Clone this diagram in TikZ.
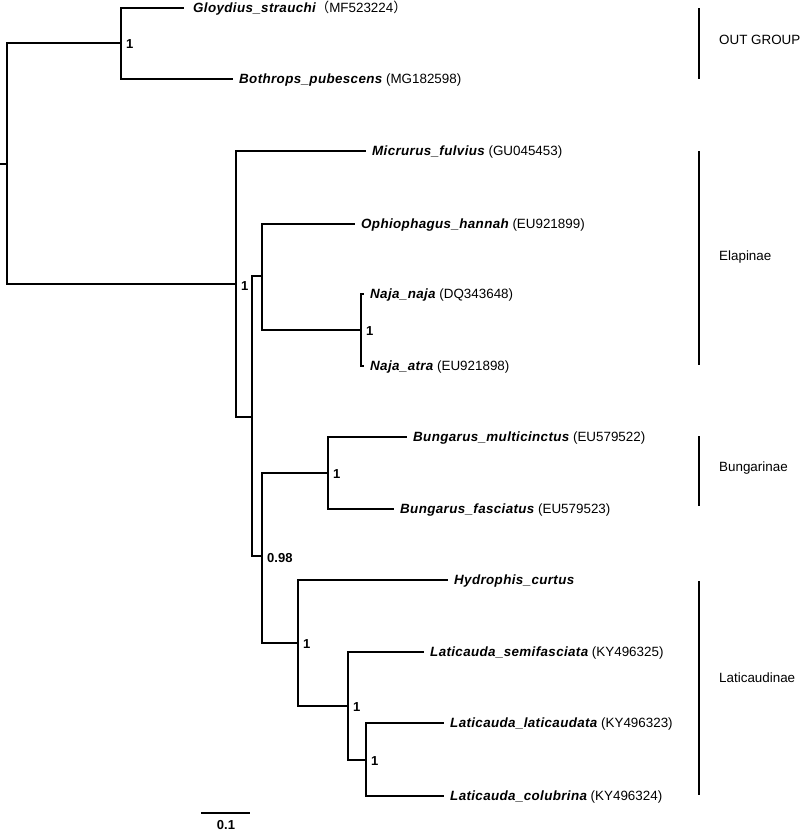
\documentclass[tikz,border=0pt]{standalone}
\usepackage{fontspec}
\setmainfont{Liberation Sans}
\newfontfamily\taxfont[LetterSpace=2.7]{Liberation Sans}
\newfontfamily\cjkfont{Noto Sans CJK SC}
\begin{document}
\begin{tikzpicture}[x=1pt,y=-1pt,
  br/.style={line width=1.9pt,line cap=rect},
  clbar/.style={line width=2.2pt},
  tiplab/.style={anchor=west,inner sep=0pt,text height=9.6pt,text depth=0pt,xshift=7pt,font=\fontsize{13.4}{15}\selectfont},
  sup/.style={anchor=west,inner sep=0pt,text height=9.6pt,text depth=0pt,font=\fontsize{13}{15}\selectfont\bfseries},
  grp/.style={anchor=west,inner sep=0pt,text height=9.6pt,text depth=0pt,font=\fontsize{13.4}{15}\selectfont}]
\useasboundingbox (0,0) rectangle (800,831);
% internal nodes
\coordinate (R) at (7,164);
\coordinate (O) at (121,43);
\coordinate (A) at (236,284);
\coordinate (B) at (252,417);
\coordinate (C) at (262,276);
\coordinate (N) at (361,330);
\coordinate (D) at (262,556);
\coordinate (G1) at (328,473);
\coordinate (E) at (298,643);
\coordinate (F) at (348,706);
\coordinate (H) at (366,760);
\coordinate (r0) at (0,164);
% tips
\coordinate (tGl) at (183,8);
\coordinate (tBo) at (232,79);
\coordinate (tMi) at (365,151);
\coordinate (tOp) at (354,224);
\coordinate (tNn) at (363,294);
\coordinate (tNa) at (363,366);
\coordinate (tBm) at (406,437);
\coordinate (tBf) at (393,509);
\coordinate (tHy) at (447,580);
\coordinate (tLs) at (423,652);
\coordinate (tLl) at (443,723);
\coordinate (tLc) at (443,796);
% branches
\draw[br] (r0) -- (R);
\draw[br] (R) |- (O);
\draw[br] (R) |- (A);
\draw[br] (O) |- (tGl);
\draw[br] (O) |- (tBo);
\draw[br] (A) |- (tMi);
\draw[br] (A) |- (B);
\draw[br] (B) |- (C);
\draw[br] (B) |- (D);
\draw[br] (C) |- (tOp);
\draw[br] (C) |- (N);
\draw[br] (N) |- (tNn);
\draw[br] (N) |- (tNa);
\draw[br] (D) |- (G1);
\draw[br] (D) |- (E);
\draw[br] (G1) |- (tBm);
\draw[br] (G1) |- (tBf);
\draw[br] (E) |- (tHy);
\draw[br] (E) |- (F);
\draw[br] (F) |- (tLs);
\draw[br] (F) |- (H);
\draw[br] (H) |- (tLl);
\draw[br] (H) |- (tLc);
% tip labels
\node[tiplab,xshift=3pt] (lGl) at (tGl) {{\taxfont\bfseries\itshape Gloydius\_strauchi}{\cjkfont （}MF523224{\cjkfont ）}};
\node[tiplab] (lBo) at (tBo) {{\taxfont\bfseries\itshape Bothrops\_pubescens} (MG182598)};
\node[tiplab] (lMi) at (tMi) {{\taxfont\bfseries\itshape Micrurus\_fulvius} (GU045453)};
\node[tiplab] (lOp) at (tOp) {{\taxfont\bfseries\itshape Ophiophagus\_hannah} (EU921899)};
\node[tiplab] (lNn) at (tNn) {{\taxfont\bfseries\itshape Naja\_naja} (DQ343648)};
\node[tiplab] (lNa) at (tNa) {{\taxfont\bfseries\itshape Naja\_atra} (EU921898)};
\node[tiplab] (lBm) at (tBm) {{\taxfont\bfseries\itshape Bungarus\_multicinctus} (EU579522)};
\node[tiplab] (lBf) at (tBf) {{\taxfont\bfseries\itshape Bungarus\_fasciatus} (EU579523)};
\node[tiplab] (lHy) at (tHy) {{\taxfont\bfseries\itshape Hydrophis\_curtus}};
\node[tiplab] (lLs) at (tLs) {{\taxfont\bfseries\itshape Laticauda\_semifasciata} (KY496325)};
\node[tiplab] (lLl) at (tLl) {{\taxfont\bfseries\itshape Laticauda\_laticaudata} (KY496323)};
\node[tiplab] (lLc) at (tLc) {{\taxfont\bfseries\itshape Laticauda\_colubrina} (KY496324)};
% support values
\node[sup] (sO) at (126,44) {1};
\node[sup] (sA) at (241,286) {1};
\node[sup] (sN) at (366,331) {1};
\node[sup] (sD) at (267,558) {0.98};
\node[sup] (sG) at (333,474) {1};
\node[sup] (sE) at (303,644) {1};
\node[sup] (sF) at (353,707) {1};
\node[sup] (sH) at (371,761) {1};
% clade bars
\coordinate (b1t) at (699,8); \coordinate (b1b) at (699,79);
\coordinate (b2t) at (699,151); \coordinate (b2b) at (699,365);
\coordinate (b3t) at (699,436); \coordinate (b3b) at (699,506);
\coordinate (b4t) at (699,581); \coordinate (b4b) at (699,795);
\draw[clbar] (b1t) -- (b1b);
\draw[clbar] (b2t) -- (b2b);
\draw[clbar] (b3t) -- (b3b);
\draw[clbar] (b4t) -- (b4b);
\node[grp] (gOut) at (719,40) {OUT GROUP};
\node[grp] (gEl) at (719,256) {Elapinae};
\node[grp] (gBu) at (719,467) {Bungarinae};
\node[grp] (gLa) at (719,678) {Laticaudinae};
% scale bar
\coordinate (s1) at (201,813); \coordinate (s2) at (250,813);
\draw[br,line cap=butt] (s1) -- (s2);
\node[sup,anchor=center] (sc) at (226,825) {0.1};
\end{tikzpicture}
\end{document}
